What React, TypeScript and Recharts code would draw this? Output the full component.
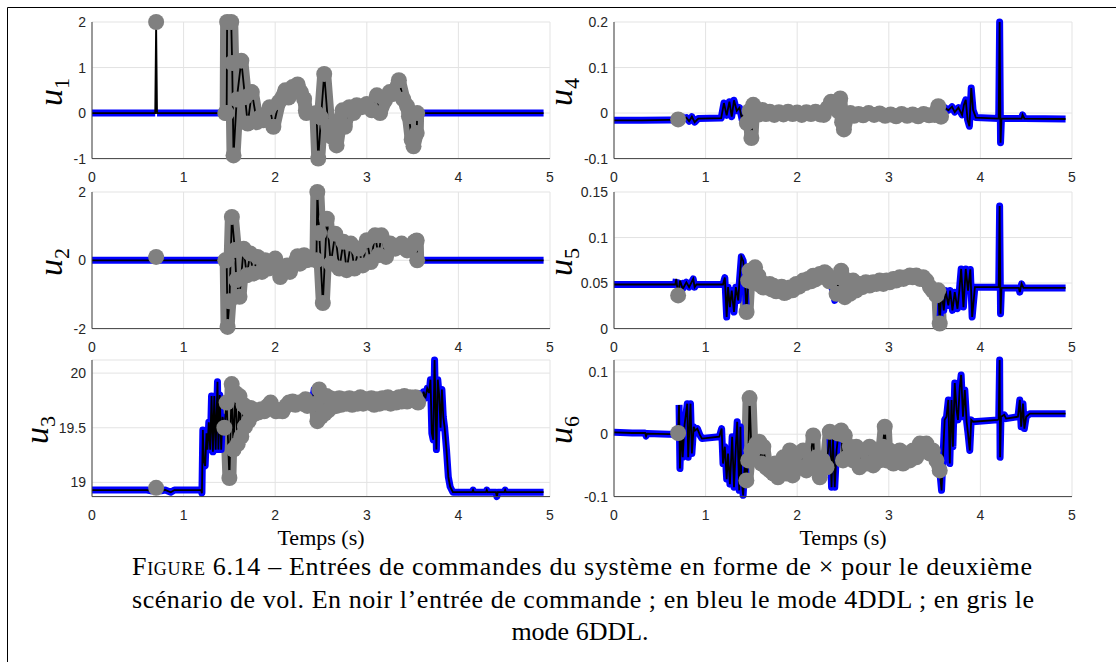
import React from 'react'
import { LineChart, Line, XAxis, YAxis, CartesianGrid } from 'recharts'

type Pt = [number, number]

// flight-mode timeline: '4' = 4DDL (blue), '6' = 6DDL (grey)
const modeSpans: [number, number, '4' | '6'][] = [
  [0, 0.698, '4'],
  [0.698, 0.702, '6'],
  [0.702, 1.46, '4'],
  [1.46, 2.34, '6'],
  [2.34, 2.455, '4'],
  [2.455, 3.55, '6'],
  [3.55, 5.01, '4'],
]

const xTicks = [0, 1, 2, 3, 4, 5]

// [time (s), command]
const u1: Pt[] = [
  [0, 0], [0.69, 0], [0.7, 2], [0.71, 0], [1.455, 0], [1.47, 0], [1.475, 2], [1.52, 2], [1.53, 1.1], [1.545, -0.93],
  [1.58, 0.3], [1.63, 1.15], [1.67, 0.35], [1.7, -0.23], [1.745, 0.46], [1.8, -0.2], [1.836, -0.09],
  [1.87, -0.16], [1.94, 0.13], [1.98, -0.3], [2.04, 0.24], [2.11, 0.5], [2.145, 0.34], [2.19, 0.57],
  [2.22, 0.5], [2.245, 0.63], [2.28, 0.46], [2.316, 0.31], [2.335, 0.06], [2.34, 0], [2.45, 0],
  [2.47, -1], [2.5, -0.1], [2.535, 0.86], [2.58, -0.3], [2.62, -0.53], [2.64, -0.42], [2.67, -0.71],
  [2.71, -0.16], [2.735, 0.06], [2.76, -0.3], [2.81, 0.13], [2.855, 0], [2.89, 0.17], [2.945, 0.13],
  [3.0, 0.2], [3.055, 0.06], [3.11, 0.39], [3.145, 0.0], [3.2, 0.28], [3.25, 0.46], [3.29, 0.42],
  [3.35, 0.72], [3.4, 0.3], [3.44, 0.15], [3.46, -0.07], [3.49, -0.58], [3.51, -0.73], [3.545, -0.44],
  [3.55, 0], [4.93, 0],
]

const u2: Pt[] = [
  [0, 0], [0.69, 0], [0.7, 0.1], [0.71, 0], [1.455, 0], [1.47, 0], [1.48, -1.95], [1.5, -1.2], [1.527, 1.27],
  [1.56, 0.3], [1.575, -0.58], [1.61, -1.07], [1.655, 0.34], [1.69, -0.44], [1.727, 0.2], [1.76, -0.39],
  [1.807, 0.1], [1.855, -0.34], [1.89, 0], [1.927, -0.24], [1.96, -0.1], [2.0, 0.05], [2.055, -0.49],
  [2.1, -0.29], [2.13, -0.15], [2.16, -0.34], [2.22, -0.05], [2.245, 0.12], [2.27, -0.1], [2.316, 0.15],
  [2.335, 0.05], [2.34, 0], [2.45, 0], [2.46, 2.0], [2.48, 0.8], [2.52, -1.25], [2.564, 1.22],
  [2.607, -0.1], [2.655, 0.78], [2.7, -0.24], [2.745, 0.54], [2.78, -0.29], [2.825, 0.49], [2.865, -0.24],
  [2.91, 0.34], [2.956, -0.15], [3.0, 0.59], [3.044, -0.05], [3.09, 0.73], [3.127, 0.15], [3.16, 0.73],
  [3.21, 0.1], [3.255, 0.49], [3.28, 0.44], [3.31, 0.34], [3.38, 0.49], [3.44, 0.29], [3.48, 0.39],
  [3.52, 0.54], [3.545, 0.58], [3.55, 0], [4.93, 0],
]

const u3: Pt[] = [
  [0, 18.93], [0.3, 18.93], [0.6, 18.93], [0.66, 18.92], [0.7, 18.95], [0.74, 18.92], [0.8, 18.93],
  [0.86, 18.91], [0.9, 18.93], [1.19, 18.93], [1.2, 18.9], [1.21, 19.48], [1.22, 19.2], [1.235, 19.15],
  [1.25, 19.45], [1.26, 19.3], [1.275, 19.55], [1.29, 19.3], [1.305, 19.79], [1.32, 19.28], [1.335, 19.79],
  [1.35, 19.3], [1.37, 19.92], [1.38, 19.3], [1.395, 19.8], [1.41, 19.3], [1.425, 19.6], [1.445, 19.5],
  [1.47, 19.73], [1.5, 19.04], [1.525, 19.9], [1.545, 19.3], [1.565, 19.82], [1.59, 19.35], [1.61, 19.79],
  [1.63, 19.42], [1.655, 19.71], [1.67, 19.51], [1.69, 19.68], [1.71, 19.56], [1.735, 19.68], [1.76, 19.62],
  [1.79, 19.66], [1.82, 19.64], [1.85, 19.67], [1.88, 19.65], [1.92, 19.7], [1.95, 19.73], [1.98, 19.68],
  [2.01, 19.65], [2.05, 19.66], [2.08, 19.65], [2.12, 19.7], [2.15, 19.73], [2.19, 19.74], [2.22, 19.71],
  [2.26, 19.73], [2.3, 19.72], [2.33, 19.76], [2.35, 19.7], [2.38, 19.79], [2.4, 19.69], [2.425, 19.85],
  [2.445, 19.72], [2.46, 19.56], [2.48, 19.85], [2.5, 19.6], [2.52, 19.79], [2.54, 19.63], [2.56, 19.79],
  [2.58, 19.66], [2.6, 19.77], [2.62, 19.69], [2.65, 19.76], [2.67, 19.7], [2.7, 19.77], [2.72, 19.71],
  [2.75, 19.76], [2.78, 19.72], [2.81, 19.77], [2.84, 19.71], [2.87, 19.76], [2.9, 19.72], [2.93, 19.78],
  [2.96, 19.72], [2.99, 19.76], [3.02, 19.73], [3.05, 19.77], [3.08, 19.71], [3.11, 19.76], [3.14, 19.72],
  [3.17, 19.77], [3.2, 19.73], [3.23, 19.78], [3.26, 19.72], [3.29, 19.76], [3.32, 19.73], [3.35, 19.78],
  [3.38, 19.74], [3.41, 19.79], [3.44, 19.74], [3.47, 19.78], [3.5, 19.76], [3.53, 19.78], [3.56, 19.73],
  [3.58, 19.81], [3.6, 19.75], [3.62, 19.83], [3.64, 19.77], [3.66, 19.86], [3.68, 19.82], [3.695, 19.94],
  [3.71, 19.45], [3.725, 19.39], [3.74, 20.12], [3.76, 19.3], [3.775, 19.94], [3.79, 19.8], [3.805, 19.5],
  [3.82, 19.85], [3.835, 19.6], [3.85, 19.5], [3.87, 19.3], [3.89, 19.05], [3.91, 18.96], [3.94, 18.91],
  [4.15, 18.91], [4.16, 18.93], [4.17, 18.91], [4.3, 18.91], [4.31, 18.93], [4.32, 18.91], [4.41, 18.91],
  [4.42, 18.87], [4.43, 18.91], [4.5, 18.91], [4.51, 18.93], [4.52, 18.91], [4.93, 18.91],
]

const u4: Pt[] = [
  [0, -0.016], [0.3, -0.016], [0.6, -0.015], [0.69, -0.015], [0.7, -0.014], [0.73, -0.004], [0.75, -0.014],
  [0.79, -0.01], [0.82, -0.018], [0.85, -0.008], [0.88, -0.02], [0.92, -0.012], [1.17, -0.011], [1.2, 0.022],
  [1.23, -0.005], [1.26, 0.025], [1.285, -0.008], [1.31, 0.028], [1.34, 0.005], [1.37, 0.012], [1.4, -0.016],
  [1.42, 0.005], [1.45, -0.022], [1.48, 0.005], [1.5, -0.055], [1.52, 0.018], [1.55, -0.001], [1.58, -0.003],
  [1.62, 0.007], [1.66, -0.002], [1.7, 0.003], [1.75, -0.004], [1.8, 0.002], [1.85, -0.003], [1.9, 0.003],
  [1.95, -0.002], [2.0, 0.001], [2.05, -0.004], [2.1, 0.002], [2.15, -0.002], [2.2, 0.003], [2.25, -0.003],
  [2.29, -0.004], [2.33, 0.011], [2.37, 0.025], [2.41, 0.012], [2.45, 0.004], [2.47, 0.032], [2.49, -0.02],
  [2.51, -0.036], [2.545, -0.008], [2.58, 0.0], [2.62, -0.006], [2.67, -0.002], [2.72, -0.005], [2.78, 0.0],
  [2.84, -0.004], [2.9, -0.001], [2.96, -0.006], [3.02, -0.003], [3.08, -0.007], [3.14, -0.002], [3.2, -0.006],
  [3.26, -0.003], [3.32, -0.007], [3.38, -0.002], [3.44, -0.005], [3.5, -0.004], [3.54, 0.015], [3.57, -0.008],
  [3.61, 0.012], [3.65, 0.006], [3.69, 0.014], [3.72, 0.002], [3.76, 0.012], [3.8, -0.004], [3.82, 0.018],
  [3.84, 0.029], [3.86, -0.015], [3.88, -0.029], [3.9, 0.055], [3.92, 0.007], [3.95, -0.01], [4.2, -0.012],
  [4.21, 0.2], [4.22, -0.065], [4.23, -0.012], [4.45, -0.012], [4.46, -0.004], [4.48, -0.012], [4.93, -0.013],
]

const u5: Pt[] = [
  [0, 0.0484], [0.3, 0.0484], [0.6, 0.0484], [0.67, 0.0484], [0.68, 0.0545], [0.7, 0.0364], [0.72, 0.0527],
  [0.75, 0.0436], [0.79, 0.0509], [0.82, 0.0455], [0.865, 0.0545], [0.88, 0.0455], [0.9, 0.0484], [1.19, 0.0484],
  [1.21, 0.056], [1.23, 0.0127], [1.245, 0.0455], [1.265, 0.0236], [1.285, 0.0418], [1.31, 0.0182], [1.33, 0.0455],
  [1.356, 0.0309], [1.37, 0.0527], [1.39, 0.0789], [1.41, 0.0745], [1.425, 0.06], [1.447, 0.0182], [1.465, 0.0527],
  [1.48, 0.0636], [1.5, 0.052], [1.52, 0.0527], [1.54, 0.0673], [1.56, 0.0527], [1.575, 0.058], [1.59, 0.048],
  [1.61, 0.0509], [1.63, 0.045], [1.665, 0.0455], [1.7, 0.049], [1.72, 0.043], [1.74, 0.047], [1.77, 0.041],
  [1.81, 0.042], [1.83, 0.046], [1.86, 0.039], [1.885, 0.04], [1.92, 0.045], [1.95, 0.042], [1.99, 0.049],
  [2.02, 0.046], [2.065, 0.0527], [2.09, 0.05], [2.12, 0.0545], [2.15, 0.052], [2.175, 0.058], [2.2, 0.054],
  [2.247, 0.06], [2.27, 0.057], [2.3, 0.062], [2.32, 0.06], [2.35, 0.052], [2.39, 0.042], [2.41, 0.031],
  [2.43, 0.0382], [2.458, 0.0564], [2.48, 0.0636], [2.5, 0.0564], [2.52, 0.0345], [2.54, 0.0491], [2.575, 0.0382],
  [2.61, 0.0527], [2.64, 0.0418], [2.68, 0.0491], [2.71, 0.0455], [2.75, 0.0509], [2.79, 0.0473], [2.83, 0.0509],
  [2.865, 0.0491], [2.9, 0.0527], [2.94, 0.0491], [2.975, 0.0527], [3.01, 0.0509], [3.05, 0.0545], [3.08, 0.0527],
  [3.12, 0.0564], [3.16, 0.0545], [3.19, 0.0564], [3.23, 0.0582], [3.26, 0.0564], [3.3, 0.0582], [3.34, 0.0545],
  [3.375, 0.0564], [3.41, 0.0527], [3.45, 0.0455], [3.48, 0.0418], [3.52, 0.0364], [3.54, 0.042], [3.556, 0.0055],
  [3.575, 0.0418], [3.6, 0.02], [3.62, 0.0418], [3.65, 0.0255], [3.67, 0.0418], [3.695, 0.02], [3.72, 0.04],
  [3.75, 0.0218], [3.77, 0.0418], [3.79, 0.0655], [3.815, 0.0236], [3.84, 0.0655], [3.865, 0.0418], [3.89, 0.065],
  [3.91, 0.0127], [3.94, 0.0455], [4.2, 0.0455], [4.21, 0.1345], [4.22, 0.0164], [4.23, 0.0447], [4.42, 0.0447],
  [4.43, 0.04], [4.45, 0.0491], [4.47, 0.0447], [4.93, 0.0447],
]

const u6: Pt[] = [
  [0, 0.003], [0.2, 0.002], [0.34, 0.002], [0.35, -0.003], [0.36, 0.001], [0.6, 0.0], [0.69, 0.0], [0.7, 0.002],
  [0.71, 0.047], [0.72, -0.055], [0.735, 0.012], [0.75, -0.037], [0.77, 0.015], [0.8, 0.049], [0.81, -0.037],
  [0.835, 0.049], [0.85, -0.031], [0.87, 0.012], [0.885, 0.006], [0.91, 0.009], [0.94, -0.002], [0.96, -0.007],
  [1.15, -0.004], [1.175, 0.009], [1.19, -0.047], [1.21, -0.02], [1.23, -0.072], [1.245, -0.031], [1.265, -0.08],
  [1.28, -0.037], [1.29, -0.004], [1.31, -0.085], [1.33, -0.02], [1.345, 0.02], [1.367, -0.09], [1.38, 0.012],
  [1.39, -0.069], [1.41, -0.098], [1.43, -0.042], [1.445, -0.074], [1.465, -0.042], [1.48, 0.058], [1.5, -0.026],
  [1.52, -0.026], [1.556, -0.015], [1.585, -0.012], [1.61, -0.047], [1.63, -0.02], [1.66, -0.053], [1.685, -0.05],
  [1.7, -0.058], [1.74, -0.063], [1.76, -0.047], [1.79, -0.069], [1.82, -0.05], [1.85, -0.037], [1.88, -0.063],
  [1.92, -0.026], [1.95, -0.066], [1.975, -0.047], [1.99, -0.031], [2.03, -0.053], [2.065, -0.026], [2.1, -0.058],
  [2.14, -0.042], [2.175, -0.002], [2.19, -0.053], [2.21, -0.037], [2.247, -0.069], [2.28, -0.042], [2.32, -0.053],
  [2.356, 0.004], [2.375, -0.085], [2.39, -0.004], [2.41, -0.085], [2.43, -0.026], [2.45, 0.001], [2.48, 0.006],
  [2.5, -0.042], [2.52, -0.002], [2.545, -0.037], [2.575, -0.02], [2.61, -0.042], [2.645, -0.02], [2.68, -0.053],
  [2.72, -0.026], [2.755, -0.047], [2.79, -0.02], [2.83, -0.05], [2.865, -0.031], [2.9, -0.042], [2.935, -0.02],
  [2.956, 0.012], [2.975, -0.042], [3.01, -0.026], [3.05, -0.047], [3.085, -0.037], [3.12, -0.026], [3.155, -0.047],
  [3.19, -0.031], [3.23, -0.042], [3.265, -0.026], [3.3, -0.037], [3.34, -0.015], [3.375, -0.026], [3.41, -0.015],
  [3.45, -0.031], [3.48, -0.026], [3.52, -0.042], [3.556, -0.058], [3.576, -0.09], [3.595, -0.026], [3.61, 0.023],
  [3.63, 0.028], [3.65, 0.055], [3.666, -0.047], [3.685, 0.055], [3.7, -0.02], [3.72, 0.082], [3.74, 0.039],
  [3.755, 0.023], [3.775, 0.076], [3.79, 0.095], [3.81, 0.028], [3.83, 0.071], [3.85, 0.02], [3.865, 0.001],
  [3.884, -0.026], [3.9, 0.023], [3.92, 0.02], [4.19, 0.023], [4.2, 0.024], [4.21, 0.119], [4.215, -0.037],
  [4.225, 0.028], [4.26, 0.031], [4.28, 0.025], [4.41, 0.028], [4.43, 0.055], [4.445, 0.012], [4.465, 0.049],
  [4.48, 0.009], [4.5, 0.028], [4.54, 0.033], [4.93, 0.033],
]

const spanOf = (t: number) => modeSpans.findIndex(([a, b]) => t >= a && t < b)
const isLong = (i: number) => modeSpans[i][1] - modeSpans[i][0] > 0.05

// split the command into the blue (4DDL) and grey (6DDL) traces;
// the grey trace also takes the sample right next to a mode switch
function buildRows(pts: Pt[]) {
  const idx = pts.map(([t]) => spanOf(t))
  return pts.map(([t, v], i) => {
    const s = idx[i]
    const mode = modeSpans[s][2]
    let grey = mode === '6'
    if (!grey && isLong(s)) {
      for (const j of [i - 1, i + 1]) {
        const n = idx[j]
        if (n === undefined || n === s) continue
        if (modeSpans[n][2] === '6' && isLong(n) && Math.abs(pts[j][0] - t) < 0.045) grey = true
      }
    }
    return { t, u: v, b: mode === '4' ? v : null, g: grey ? v : null }
  })
}

const AX_W = 50
const PAD_T = 12
const PAD_R = 12
const AX_H = 34
const PW = 458
const PH = 136.6
const tickStyle = { fontSize: 14, fontFamily: 'Liberation Sans, Arial, sans-serif', fill: '#262626' }

interface PanelProps {
  pts: Pt[]
  left: number
  top: number
  domain: [number, number]
  ticks: number[]
}

function Panel({ pts, left, top, domain, ticks }: PanelProps) {
  const rows = buildRows(pts)
  return (
    <div style={{ position: 'absolute', left: left - AX_W, top: top - PAD_T }}>
      <LineChart
        width={AX_W + PW + PAD_R}
        height={PAD_T + PH + AX_H}
        data={rows}
        margin={{ top: PAD_T, right: PAD_R, bottom: 0, left: 0 }}
      >
        <CartesianGrid stroke="#e3e3e3" />
        <XAxis
          dataKey="t"
          type="number"
          domain={[0, 5]}
          ticks={xTicks}
          height={AX_H}
          tick={tickStyle}
          tickLine={false}
          tickMargin={7}
          axisLine={{ stroke: '#404040' }}
        />
        <YAxis
          type="number"
          domain={domain}
          ticks={ticks}
          width={AX_W}
          tick={tickStyle}
          tickLine={false}
          tickMargin={0}
          axisLine={{ stroke: '#404040' }}
        />
        <Line dataKey="g" stroke="#808080" strokeWidth={14} strokeLinejoin="round" strokeLinecap="round"
          dot={{ r: 8, fill: '#808080', stroke: 'none' }} isAnimationActive={false} />
        <Line dataKey="b" stroke="#0000ff" strokeWidth={7} strokeLinejoin="round" dot={false} isAnimationActive={false} />
        <Line dataKey="u" stroke="#000000" strokeWidth={1.8} dot={false} isAnimationActive={false} />
      </LineChart>
    </div>
  )
}

const serif = 'Liberation Serif, Times New Roman, serif'

function YLabel({ x, y, n }: { x: number; y: number; n: number }) {
  return (
    <text transform={`translate(${x},${y}) rotate(-90)`} textAnchor="middle" fontFamily={serif} fontSize={34} fontStyle="italic" fill="#000">
      u<tspan fontSize={22} fontStyle="normal" dy={7}>{n}</tspan>
    </text>
  )
}

export default function App() {
  const L = 92
  const R = 614
  const rows = [21.7, 191.7, 360]
  return (
    <div style={{ position: 'absolute', left: 0, top: 0, width: 1116, height: 662, background: '#fff', overflow: 'hidden' }}>
      <Panel pts={u1} left={L} top={rows[0]} domain={[-1, 2]} ticks={[-1, 0, 1, 2]} />
      <Panel pts={u2} left={L} top={rows[1]} domain={[-2, 2]} ticks={[-2, 0, 2]} />
      <Panel pts={u3} left={L} top={rows[2]} domain={[18.88, 20.12]} ticks={[19, 19.5, 20]} />
      <Panel pts={u4} left={R} top={rows[0]} domain={[-0.1, 0.2]} ticks={[-0.1, 0, 0.1, 0.2]} />
      <Panel pts={u5} left={R} top={rows[1]} domain={[0, 0.15]} ticks={[0, 0.05, 0.1, 0.15]} />
      <Panel pts={u6} left={R} top={rows[2]} domain={[-0.1, 0.119]} ticks={[-0.1, 0, 0.1]} />
      <svg width={1116} height={662} style={{ position: 'absolute', left: 0, top: 0, pointerEvents: 'none' }}>
        <line x1={7.5} y1={7.5} x2={1116} y2={7.5} stroke="#000" />
        <line x1={7.5} y1={7.5} x2={7.5} y2={662} stroke="#000" />
        <YLabel x={62} y={92} n={1} />
        <YLabel x={62} y={262} n={2} />
        <YLabel x={48} y={430} n={3} />
        <YLabel x={572} y={92} n={4} />
        <YLabel x={572} y={262} n={5} />
        <YLabel x={572} y={430} n={6} />
        <text x={321} y={545} textAnchor="middle" fontFamily={serif} fontSize={22}>Temps (s)</text>
        <text x={843} y={545} textAnchor="middle" fontFamily={serif} fontSize={22}>Temps (s)</text>
        <g fontFamily={serif} fontSize={26} fill="#000">
          <text x={132} y={575} textLength={900} lengthAdjust="spacing">
            <tspan style={{ fontVariant: 'small-caps' }}>Figure</tspan> 6.14 – Entrées de commandes du système en forme de × pour le deuxième
          </text>
          <text x={132} y={608} textLength={902} lengthAdjust="spacing">scénario de vol. En noir l’entrée de commande ; en bleu le mode 4DDL ; en gris le</text>
          <text x={580} y={640} textAnchor="middle">mode 6DDL.</text>
        </g>
      </svg>
    </div>
  )
}
